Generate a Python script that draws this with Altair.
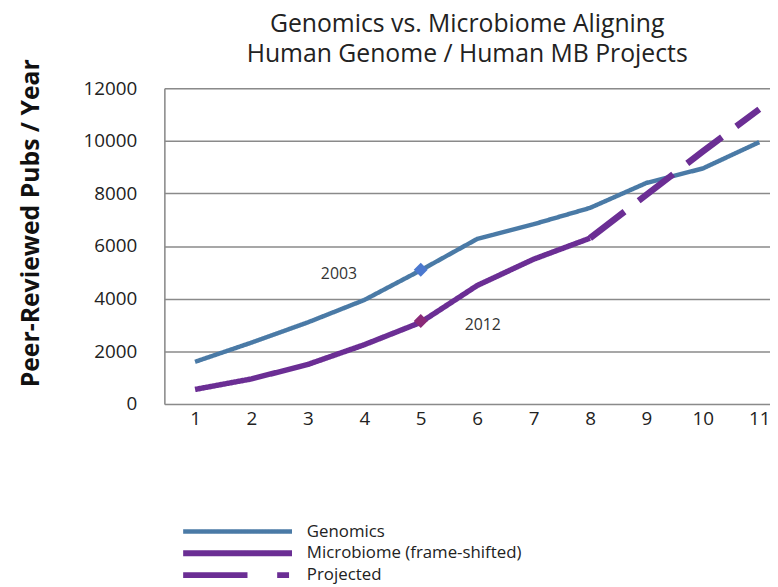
import altair as alt
import pandas as pd

years = list(range(1, 12))
genomics = [1600, 2330, 3100, 3950, 5080, 6270, 6830, 7450, 8400, 8950, 9950]
micro_x = [1, 2, 3, 4, 5, 6, 7, 8]
microbiome = [550, 950, 1500, 2250, 3100, 4500, 5500, 6300]
proj_x = [8, 9, 10, 11]
projected = [6300, 7950, 9600, 11200]
series_names = ["Genomics", "Microbiome (frame-shifted)", "Projected"]
series_colors = ["#4a7aa6", "#6b2e94", "#6b2e94"]
marker_x = [5, 5]
marker_y = [5100, 3150]
marker_colors = ["#4b78cf", "#8a2a78"]
ann_text = ["2003", "2012"]
ann_x = [3.55, 6.1]
ann_y = [4950, 3000]

rows = []
for x, v in zip(years, genomics):
    rows.append({"x": x, "y": v, "series": series_names[0]})
for x, v in zip(micro_x, microbiome):
    rows.append({"x": x, "y": v, "series": series_names[1]})
for x, v in zip(proj_x, projected):
    rows.append({"x": x, "y": v, "series": series_names[2]})
lines_df = pd.DataFrame(rows)
markers_df = pd.DataFrame({"x": marker_x, "y": marker_y, "c": marker_colors})
ann_df = pd.DataFrame({"x": ann_x, "y": ann_y, "t": ann_text})

FONT = "Open Sans"

xscale = alt.Scale(domain=[0.456, 11.19], nice=False, zero=False)
yscale = alt.Scale(domain=[0, 12000], nice=False)

xenc = alt.X("x:Q", scale=xscale, axis=alt.Axis(values=years, format="d", grid=False, domain=False,
                                               ticks=False, labelPadding=6, labelFontSize=19,
                                               labelColor="#222", labelFont=FONT, title=None,
                                               labelFlush=False))
yenc = alt.Y("y:Q", scale=yscale, axis=alt.Axis(values=list(range(0, 12001, 2000)), format="d",
                                               grid=True, gridColor="#8a8a8a", gridWidth=1.5,
                                               domain=True, domainColor="#8a8a8a", domainWidth=1.5,
                                               ticks=False, labelPadding=28, labelFontSize=19,
                                               labelColor="#222", labelFont=FONT,
                                               title="Peer-Reviewed Pubs / Year", titleFontSize=25,
                                               titleFont=FONT, titleFontWeight="bold", titleColor="#111",
                                               titleX=-135, titleY=136, titleBaseline="middle"))

lines = alt.Chart(lines_df).mark_line().encode(
    x=xenc,
    y=yenc,
    color=alt.Color("series:N", scale=alt.Scale(domain=series_names, range=series_colors), legend=None),
    strokeDash=alt.StrokeDash("series:N", scale=alt.Scale(domain=series_names,
                                                          range=[[1, 0], [1, 0], [44, 18]]), legend=None),
    strokeWidth=alt.StrokeWidth("series:N", scale=alt.Scale(domain=series_names, range=[4.5, 6.5, 5.5]),
                                legend=None),
    order=alt.Order("x:Q"),
)

markers = alt.Chart(markers_df).mark_point(shape="diamond", filled=True, size=200, opacity=1).encode(
    x="x:Q", y="y:Q", color=alt.Color("c:N", scale=None)
)

ann = alt.Chart(ann_df).mark_text(fontSize=16, font=FONT, color="#333").encode(
    x="x:Q", y="y:Q", text="t:N"
)

# manual legend (decoration)
leg_layers = []
leg_rows = [(448, [1, 0], 4.5), (470, [1, 0], 6), (492, [65, 30, 12, 200], 6)]
for (ly, dash, sw), name, col in zip(leg_rows, series_names, series_colors):
    leg_layers.append(
        alt.Chart(lines_df).mark_rule(strokeDash=dash, strokeWidth=sw, color=col, strokeCap="butt").encode(
            x=alt.value(19), x2=alt.value(129), y=alt.value(ly)
        ).transform_filter(alt.datum.series == name).transform_aggregate(n="count()")
    )
    leg_layers.append(
        alt.Chart(lines_df).mark_text(text=name, align="left", baseline="middle", fontSize=17,
                                      font=FONT, color="#222").encode(
            x=alt.value(144), y=alt.value(ly)
        ).transform_filter(alt.datum.series == name).transform_aggregate(n="count()")
    )

chart = alt.layer(lines, markers, ann, *leg_layers).properties(
    width=612,
    height=319,
    autosize=alt.AutoSizeParams(type="none"),
    padding={"left": 158, "top": 78, "right": 0, "bottom": 185},
    title=alt.TitleParams(["Genomics vs. Microbiome Aligning", "Human Genome / Human MB Projects"],
                          fontSize=25, fontWeight="normal", font=FONT, color="#222",
                          anchor="middle", offset=-8, lineHeight=30),
).configure_view(strokeWidth=0).configure(background="white")

chart.save("out.html", embed_options={"renderer": "svg", "actions": False})
